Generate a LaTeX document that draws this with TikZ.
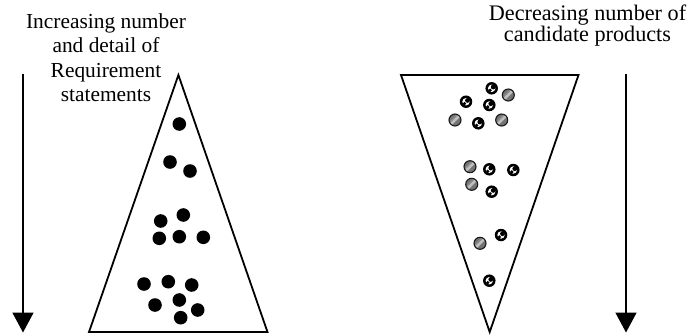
\documentclass[tikz,border=0pt]{standalone}
\usepackage{fontspec}
\setmainfont{Liberation Serif}
\usetikzlibrary{arrows.meta}
\begin{document}
\begin{tikzpicture}[x=1pt,y=-1pt,
  edge/.style={line width=1.8pt,line join=miter},
  flow/.style={line width=1.8pt,-{Triangle[width=21pt,length=20pt]}},
  req/.style={circle,fill=black,inner sep=0pt,minimum size=13.6pt},
  greyball/.style={circle,inner sep=0pt,minimum size=12pt,draw=black!90,line width=1.1pt,
    fill=black!55,
    path picture={
      \draw[black!25,line width=2.6pt] ([shift={(-7,7)}]path picture bounding box.center)
        -- ([shift={(7,-7)}]path picture bounding box.center);
      \draw[black!45,line width=1.4pt] ([shift={(-8.5,5.5)}]path picture bounding box.center)
        -- ([shift={(5.5,-8.5)}]path picture bounding box.center);
    }},
  bwball/.style={circle,inner sep=0pt,minimum size=12.5pt,fill=black,
    path picture={
      \fill[white] (path picture bounding box.center) circle (3.7pt);
      \fill[black] ([shift={(1.5,-1.3)}]path picture bounding box.center) circle (2.4pt);
      \fill[black] ([shift={(-1.6,2.0)}]path picture bounding box.center) circle (1.8pt);
    }},
  lbl/.style={anchor=base,inner sep=0pt},
]
\useasboundingbox (0,0) rectangle (688,335);

% left heading
\begin{scope}[every node/.style={lbl,font=\fontsize{21.4}{25}\selectfont}]
  \node (l1) at (106,28.3)  {Increasing number};
  \node (l2) at (106,52.8)  {and detail of};
  \node (l3) at (106,77.3)  {Requirement};
  \node (l4) at (106,101.8) {statements};
\end{scope}

% right heading
\begin{scope}[every node/.style={lbl,font=\fontsize{22.2}{25}\selectfont}]
  \node (r1) at (587.5,20.7) {Decreasing number of};
  \node (r2) at (587.5,41.7) {candidate products};
\end{scope}

% direction arrows
\coordinate (la-top) at (23,74);
\coordinate (la-end) at (23,332.5);
\draw[flow] (la-top) -- (la-end);
\coordinate (ra-top) at (626,74);
\coordinate (ra-end) at (626,332.5);
\draw[flow] (ra-top) -- (ra-end);

% requirements pyramid
\coordinate (lt-apex) at (178.4,75);
\coordinate (lt-bl) at (89,332);
\coordinate (lt-br) at (267.5,332);
\draw[edge] (lt-apex) -- (lt-br) -- (lt-bl) -- cycle;

% candidate funnel
\coordinate (rt-tl) at (401,75);
\coordinate (rt-tr) at (578.5,75);
\coordinate (rt-tip) at (489.7,332);
\draw[edge] (rt-tl) -- (rt-tr) -- (rt-tip) -- cycle;

% requirement statements
\foreach \x/\y [count=\i] in {179.3/124, 170/162, 190/171, 183.3/215, 160.7/221,
    159.3/238.3, 179.3/236.7, 203.3/237.3, 144/284, 168.3/281.7, 191.7/285,
    155/305, 179.3/300, 197.7/310, 180.7/317.7}
  \node[req] (q\i) at (\x,\y) {};

% candidate products
\foreach \x/\y [count=\i] in {508.3/95, 455/120, 501.7/120, 470/166.7, 471.7/184.3, 480/243.3}
  \node[greyball] (g\i) at (\x,\y) {};
\foreach \x/\y [count=\i] in {491.7/88.3, 466/101.7, 489.3/105, 478.3/123.3, 489.3/169.3,
    513.3/170, 491.7/191.7, 501/235, 489.3/280.7}
  \node[bwball] (b\i) at (\x,\y) {};
\end{tikzpicture}
\end{document}
